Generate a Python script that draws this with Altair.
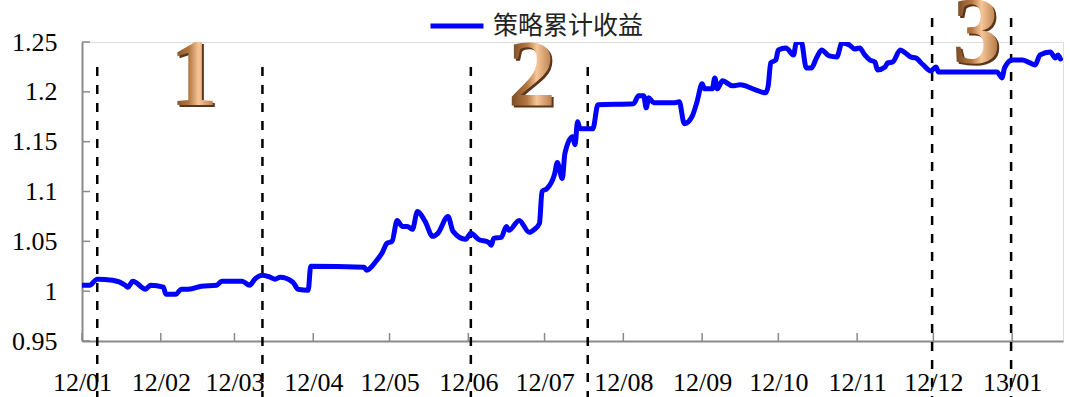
import altair as alt
import pandas as pd

# Cumulative strategy return, sampled at turning points
dates = [
    "2012-01-01", "2012-01-04", "2012-01-07", "2012-01-13", "2012-01-18", "2012-01-19",
    "2012-01-21", "2012-01-26", "2012-01-28", "2012-02-02", "2012-02-03", "2012-02-07",
    "2012-02-09", "2012-02-12", "2012-02-17", "2012-02-23", "2012-02-25", "2012-03-04",
    "2012-03-07", "2012-03-09", "2012-03-12", "2012-03-15", "2012-03-17", "2012-03-19",
    "2012-03-24", "2012-03-26", "2012-03-30", "2012-03-31", "2012-04-21", "2012-04-22",
    "2012-04-26", "2012-04-28", "2012-04-30", "2012-05-02", "2012-05-04", "2012-05-06",
    "2012-05-08", "2012-05-10", "2012-05-12", "2012-05-15", "2012-05-18", "2012-05-20",
    "2012-05-24", "2012-05-26", "2012-05-31", "2012-06-02", "2012-06-05", "2012-06-09",
    "2012-06-10", "2012-06-11", "2012-06-14", "2012-06-16", "2012-06-17", "2012-06-21",
    "2012-06-25", "2012-06-27", "2012-06-29", "2012-06-30", "2012-07-02", "2012-07-05",
    "2012-07-06", "2012-07-08", "2012-07-09", "2012-07-12", "2012-07-13", "2012-07-14",
    "2012-07-15", "2012-07-20", "2012-07-22", "2012-08-05", "2012-08-07", "2012-08-09",
    "2012-08-10", "2012-08-11", "2012-08-13", "2012-08-21", "2012-08-23", "2012-08-25",
    "2012-08-28", "2012-08-30", "2012-09-01", "2012-09-02", "2012-09-05", "2012-09-06",
    "2012-09-07", "2012-09-09", "2012-09-13", "2012-09-16", "2012-09-22", "2012-09-26",
    "2012-09-27", "2012-09-28", "2012-09-30", "2012-10-01", "2012-10-04", "2012-10-07",
    "2012-10-08", "2012-10-10", "2012-10-12", "2012-10-14", "2012-10-16", "2012-10-18",
    "2012-10-21", "2012-10-24", "2012-10-26", "2012-10-29", "2012-10-31", "2012-11-02",
    "2012-11-04", "2012-11-06", "2012-11-08", "2012-11-09", "2012-11-12", "2012-11-13",
    "2012-11-15", "2012-11-18", "2012-11-20", "2012-11-22", "2012-11-24", "2012-11-27",
    "2012-11-30", "2012-12-02", "2012-12-03", "2012-12-26", "2012-12-28", "2012-12-29",
    "2013-01-01", "2013-01-05", "2013-01-08", "2013-01-10", "2013-01-12", "2013-01-16",
    "2013-01-18", "2013-01-19", "2013-01-20",
]
values = [
    1.006, 1.006, 1.012, 1.011, 1.006, 1.004,
    1.010, 1.002, 1.006, 1.004, 0.997, 0.997,
    1.002, 1.002, 1.005, 1.006, 1.010, 1.010,
    1.006, 1.012, 1.016, 1.014, 1.012, 1.014,
    1.009, 1.002, 1.001, 1.025, 1.024, 1.021,
    1.031, 1.038, 1.048, 1.050, 1.071, 1.065,
    1.065, 1.062, 1.080, 1.070, 1.055, 1.058,
    1.075, 1.060, 1.052, 1.058, 1.052, 1.049,
    1.046, 1.053, 1.054, 1.065, 1.061, 1.071,
    1.059, 1.062, 1.068, 1.100, 1.103, 1.118,
    1.129, 1.113, 1.138, 1.155, 1.147, 1.170,
    1.163, 1.163, 1.187, 1.188, 1.196, 1.196,
    1.184, 1.194, 1.189, 1.189, 1.190, 1.168,
    1.175, 1.190, 1.208, 1.203, 1.203, 1.214,
    1.203, 1.211, 1.206, 1.207, 1.202, 1.199,
    1.206, 1.229, 1.232, 1.242, 1.244, 1.237,
    1.249, 1.250, 1.224, 1.224, 1.234, 1.242,
    1.236, 1.235, 1.249, 1.247, 1.243, 1.244,
    1.237, 1.232, 1.230, 1.222, 1.225, 1.229,
    1.230, 1.242, 1.239, 1.235, 1.234, 1.227,
    1.221, 1.225, 1.220, 1.220, 1.214, 1.224,
    1.232, 1.232, 1.229, 1.227, 1.237, 1.240,
    1.234, 1.237, 1.233,
]
series_name = "策略累计收益"

# Month boundaries used for axis ticks and labels
month_ticks = [
    "2012-01-01", "2012-02-01", "2012-03-01", "2012-04-01", "2012-05-01",
    "2012-06-01", "2012-07-01", "2012-08-01", "2012-09-01", "2012-10-01",
    "2012-11-01", "2012-12-01", "2013-01-01",
]
y_ticks = [0.95, 1.0, 1.05, 1.1, 1.15, 1.2, 1.25]

# Phase boundaries (dashed markers)
phase_low = ["2012-01-07", "2012-03-12", "2012-06-02", "2012-07-18"]
phase_high = ["2012-11-30 12:00", "2012-12-31 14:00"]

# Phase numbers
phase_labels = ["1", "2", "3"]
phase_label_dates = ["2012-02-14", "2012-06-26", "2012-12-18"]
phase_label_values = [1.187, 1.186, 1.229]

x_domain = ["2012-01-01", "2013-01-21"]

W, H = 981, 299
AXIS_GRAY = "#8a8a8a"
SERIF = "Liberation Serif"


def dt(s):
    t = pd.Timestamp(s)
    return alt.DateTime(year=t.year, month=t.month, date=t.day, hours=t.hour)


line_df = pd.DataFrame({"date": pd.to_datetime(dates), "value": values, "series": series_name})
tick_df = pd.DataFrame({"date": pd.to_datetime(month_ticks)})
ytick_df = pd.DataFrame({"value": y_ticks})
low_df = pd.DataFrame({"date": pd.to_datetime(phase_low)})
high_df = pd.DataFrame({"date": pd.to_datetime(phase_high)})
lab_df = pd.DataFrame({
    "date": pd.to_datetime(phase_label_dates),
    "value": phase_label_values,
    "label": phase_labels,
})

x_scale = alt.Scale(domain=[dt(d) for d in x_domain], nice=False)
y_scale = alt.Scale(domain=[0.95, 1.25], nice=False, zero=False)

x_axis = alt.Axis(
    values=[dt(d) for d in month_ticks], format="%y/%m", title=None, grid=False,
    ticks=False, tickSize=0, domainColor=AXIS_GRAY, domainWidth=2,
    labelFont=SERIF, labelFontSize=26, labelColor="black", labelPadding=28,
    labelFlush=False, labelOverlap=False,
)
y_axis = alt.Axis(
    values=y_ticks, format="~g", title=None, grid=False,
    ticks=False, tickSize=0, domainColor=AXIS_GRAY, domainWidth=2,
    labelFont=SERIF, labelFontSize=26, labelColor="black", labelPadding=25,
    labelFlush=False, labelOverlap=False,
)

line = alt.Chart(line_df).mark_line(
    strokeWidth=5, strokeJoin="round", strokeCap="round", clip=True,
    interpolate="monotone",
).encode(
    x=alt.X("date:T", scale=x_scale, axis=x_axis),
    y=alt.Y("value:Q", scale=y_scale, axis=y_axis),
    color=alt.Color(
        "series:N",
        scale=alt.Scale(range=["#0000FF"]),
        legend=alt.Legend(
            title=None, orient="none", legendX=346, legendY=-45, padding=0,
            symbolType="stroke", symbolSize=2809, symbolStrokeWidth=5,
            labelFont="Noto Sans CJK SC", labelFontSize=25, labelColor="#222222",
            labelOffset=7,
        ),
    ),
)

# Inward-pointing axis ticks
xticks = alt.Chart(tick_df).mark_rule(color=AXIS_GRAY, strokeWidth=1.5).encode(
    x=alt.X("date:T", scale=x_scale), y=alt.value(H), y2=alt.value(H - 8)
)
yticks = alt.Chart(ytick_df).mark_rule(color=AXIS_GRAY, strokeWidth=1.5).encode(
    y=alt.Y("value:Q", scale=y_scale), x=alt.value(0), x2=alt.value(8)
)

dash = [9, 9]
low_rules = alt.Chart(low_df).mark_rule(color="black", strokeWidth=2.5, strokeDash=dash).encode(
    x=alt.X("date:T", scale=x_scale), y=alt.value(25), y2=alt.value(356)
)
high_rules = alt.Chart(high_df).mark_rule(color="black", strokeWidth=2.5, strokeDash=dash).encode(
    x=alt.X("date:T", scale=x_scale), y=alt.value(-24), y2=alt.value(356)
)

bronze = alt.Gradient(
    gradient="linear", x1=0, y1=0, x2=1, y2=0,
    stops=[
        alt.GradientStop(color="#6e4220", offset=0),
        alt.GradientStop(color="#b47842", offset=0.4),
        alt.GradientStop(color="#f6c699", offset=0.6),
        alt.GradientStop(color="#a86c3a", offset=1),
    ],
)
num_shadow = alt.Chart(lab_df).mark_text(
    font=SERIF, fontWeight="bold", fontSize=96, align="center", baseline="alphabetic",
    color="#5a3518", dx=2, dy=2,
).encode(x=alt.X("date:T", scale=x_scale), y=alt.Y("value:Q", scale=y_scale), text="label:N")
num_face = alt.Chart(lab_df).mark_text(
    font=SERIF, fontWeight="bold", fontSize=96, align="center", baseline="alphabetic",
    color=bronze,
).encode(x=alt.X("date:T", scale=x_scale), y=alt.Y("value:Q", scale=y_scale), text="label:N")

chart = alt.layer(
    num_shadow, num_face, low_rules, high_rules, xticks, yticks, line
).properties(
    width=W, height=H,
    autosize=alt.AutoSizeParams(type="none"),
    padding={"left": 82, "top": 42, "right": 7, "bottom": 56},
).configure_view(stroke=None).configure(background="white")

chart.save("out.html", embed_options={"renderer": "svg", "actions": False})
